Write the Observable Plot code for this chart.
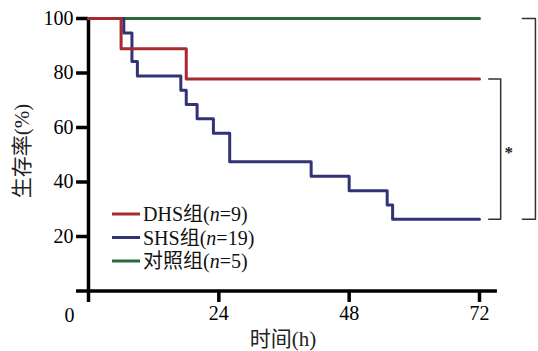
<!DOCTYPE html>
<html><head><meta charset="utf-8">
<script src="https://cdn.jsdelivr.net/npm/d3@7"></script>
<script src="https://cdn.jsdelivr.net/npm/@observablehq/plot@0.6"></script>
<style>html,body{margin:0;padding:0;background:#fff} svg{display:block}</style>
</head><body><div id="chart"></div>
<script>
const groups = ["DHS组", "SHS组", "对照组"];
const groupN = [9, 19, 5];
const colors = ["#a62a2f", "#323276", "#2d6a3b"];
const dhsTime = [0, 6, 18, 72];
const dhsSurv = [100, 88.9, 77.8, 77.8];
const shsTime = [0, 6.5, 8, 9, 17, 18, 20, 23, 26, 41, 48, 55, 56, 72];
const shsSurv = [100, 94.7, 84.2, 78.9, 73.7, 68.4, 63.2, 57.9, 47.4, 42.1, 36.8, 31.6, 26.3, 26.3];
const ctrlTime = [0, 72];
const ctrlSurv = [100, 100];
const yTicks = [20, 40, 60, 80, 100];
const xTicks = [24, 48, 72];
const yLabel = "生存率(%)";
const xLabel = "时间(h)";

const toRows = (t, s, g) => t.map((d, i) => ({time: d, surv: s[i], group: g}));
const rows = [
  ...toRows(ctrlTime, ctrlSurv, groups[2]),
  ...toRows(shsTime, shsSurv, groups[1]),
  ...toRows(dhsTime, dhsSurv, groups[0])
];

const endDHS = dhsSurv[dhsSurv.length - 1];
const endSHS = shsSurv[shsSurv.length - 1];
const endCtrl = ctrlSurv[ctrlSurv.length - 1];
const bracketSmall = [[73.7, endDHS], [75.9, endDHS], [75.9, endSHS], [73.7, endSHS]];
const bracketBig = [[79.9, endCtrl], [82.3, endCtrl], [82.3, endSHS], [79.9, endSHS]];

const font = '"Liberation Serif", "Noto Sans CJK SC", serif';

const plot = Plot.plot({
  width: 538, height: 351,
  marginLeft: 88, marginRight: 59, marginTop: 18, marginBottom: 60.5,
  style: {fontFamily: font, fontSize: "20px", color: "#000", background: "#fff", overflow: "visible"},
  x: {domain: [0, 72]},
  y: {domain: [0, 100]},
  color: {domain: groups, range: colors},
  marks: [
    Plot.axisY({ticks: yTicks, tickSize: 0, tickPadding: 15, fontSize: 20, label: null}),
    Plot.axisX({ticks: xTicks, tickSize: 0, tickPadding: 15, fontSize: 20, label: null}),
    Plot.ruleY(yTicks, {x1: -2.2, x2: 0, stroke: "#000", strokeWidth: 3.5}),
    Plot.ruleX(xTicks, {y1: -4.2, y2: 0, stroke: "#000", strokeWidth: 3.5}),
    Plot.ruleX([0], {y1: -4.2, y2: 100, stroke: "#000", strokeWidth: 3.5}),
    Plot.ruleY([0], {x1: -2.2, x2: 75.3, stroke: "#000", strokeWidth: 3.5}),
    Plot.text(["0"], {x: 0, y: 0, text: d => d, dx: -19, dy: 24.5, fontSize: 20, fill: "#000"}),
    Plot.line(rows, {x: "time", y: "surv", z: "group", stroke: "group", strokeWidth: 3, curve: "step-after"}),
    Plot.line(bracketSmall, {x: d => d[0], y: d => d[1], stroke: "#333", strokeWidth: 1.5}),
    Plot.line(bracketBig, {x: d => d[0], y: d => d[1], stroke: "#333", strokeWidth: 1.5}),
    Plot.text(["*"], {x: 77.4, y: (endDHS + endSHS) / 2, text: d => d, dy: 3, fontSize: 17, fontWeight: "bold", fill: "#222"})
  ]
});

const svg = d3.select(plot);
// axis titles
svg.append("text").attr("transform", "translate(22,151) rotate(-90)")
  .attr("text-anchor", "middle").attr("dominant-baseline", "central")
  .attr("font-family", font).attr("font-size", 21).attr("fill", "#222").text(yLabel);
svg.append("text").attr("x", 283).attr("y", 339)
  .attr("text-anchor", "middle").attr("dominant-baseline", "central")
  .attr("font-family", font).attr("font-size", 21).attr("fill", "#222").text(xLabel);

// legend
const lg = svg.append("g").attr("font-family", font).attr("font-size", 20)
  .attr("fill", "#111").attr("text-anchor", "start");
groups.forEach((g, i) => {
  const y = 214 + i * 23.5;
  lg.append("line").attr("x1", 112).attr("x2", 140).attr("y1", y).attr("y2", y)
    .attr("stroke", colors[i]).attr("stroke-width", 3);
  const t = lg.append("text").attr("x", 143).attr("y", y).attr("dy", "0.35em");
  t.append("tspan").text(g + "(");
  t.append("tspan").attr("font-style", "italic").text("n");
  t.append("tspan").text("=" + groupN[i] + ")");
});

document.getElementById("chart").appendChild(plot);
</script>
</body></html>
